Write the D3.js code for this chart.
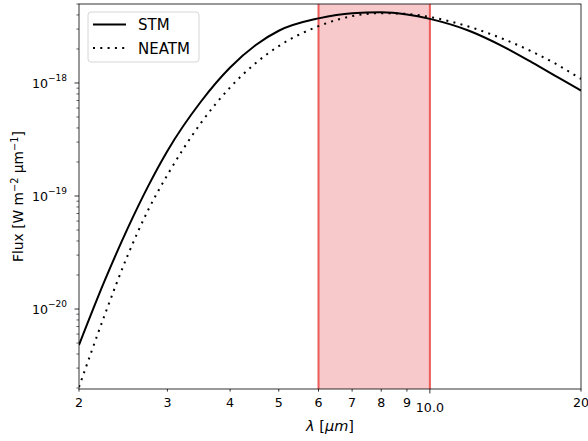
<!DOCTYPE html>
<html>
<head>
<meta charset="utf-8">
<script src="https://cdn.jsdelivr.net/npm/d3@7"></script>
<style>
  body { margin: 0; background: #fff; }
  svg { display: block; }
  text { font-family: "DejaVu Sans", sans-serif; fill: #000; }
</style>
</head>
<body>
<svg id="chart" width="588" height="441"></svg>
<script>
// Values
const wavelengths = [2, 2.25, 2.5, 2.75, 3, 3.5, 4, 4.5, 5, 6, 7, 8, 9, 10, 12, 14, 16, 18, 20];
const fluxSTM = [4.80e-21, 1.78e-20, 5.17e-20, 1.236e-19, 2.506e-19, 6.86e-19, 1.371e-18, 2.17e-18, 2.90e-18,
  3.73e-18, 4.147e-18, 4.224e-18, 4.039e-18, 3.692e-18, 2.885e-18, 2.100e-18, 1.515e-18, 1.121e-18, 8.56e-19];
const fluxNEATM = [2.04e-21, 8.85e-21, 2.975e-20, 7.60e-20, 1.534e-19, 4.436e-19, 9.14e-19, 1.503e-18, 2.121e-18,
  3.182e-18, 3.908e-18, 4.147e-18, 4.080e-18, 3.837e-18, 3.136e-18, 2.452e-18, 1.888e-18, 1.440e-18, 1.087e-18];
const seriesNames = ['STM', 'NEATM'];
const xTickValues = [2, 3, 4, 5, 6, 7, 8, 9, 10, 20];
const xTickLabels = ['2', '3', '4', '5', '6', '7', '8', '9', '10.0', '20'];
const xMajorTicks = [10];
const yMajorExponents = [-18, -19, -20];
const bandRange = [6, 10];
const xDomain = [2, 20];
const yDomain = [1.96e-21, 5.0e-18];

// Layout
const margin = { top: 4, right: 7, bottom: 52, left: 79 };
const width = 588 - margin.left - margin.right;
const height = 441 - margin.top - margin.bottom;

const svg = d3.select('#chart');
const chart = svg.append('g').attr('transform', `translate(${margin.left},${margin.top})`);

const xScale = d3.scaleLog().domain(xDomain).range([0, width]);
const yScale = d3.scaleLog().domain(yDomain).range([height, 0]);

// Shaded wavelength band
chart.append('rect')
  .attr('x', xScale(bandRange[0]))
  .attr('y', 0)
  .attr('width', xScale(bandRange[1]) - xScale(bandRange[0]))
  .attr('height', height)
  .attr('fill', '#f7c9ca');
chart.selectAll('.band-edge').data(bandRange).join('line')
  .attr('class', 'band-edge')
  .attr('x1', d => xScale(d)).attr('x2', d => xScale(d))
  .attr('y1', 0).attr('y2', height)
  .attr('stroke', '#ec5a5a').attr('stroke-width', 2);

// Curves
chart.append('clipPath').attr('id', 'plot-clip')
  .append('rect').attr('width', width).attr('height', height);
const line = d3.line()
  .x((d, i) => xScale(wavelengths[i]))
  .y(d => yScale(d))
  .curve(d3.curveMonotoneX);
chart.append('path').datum(fluxSTM)
  .attr('clip-path', 'url(#plot-clip)')
  .attr('fill', 'none').attr('stroke', '#000').attr('stroke-width', 2)
  .attr('d', line);
chart.append('path').datum(fluxNEATM)
  .attr('clip-path', 'url(#plot-clip)')
  .attr('fill', 'none').attr('stroke', '#000').attr('stroke-width', 2)
  .attr('stroke-dasharray', '2,5.3')
  .attr('d', line);

// X axis
const xAxisG = chart.append('g').attr('transform', `translate(0,${height})`);
xAxisG.selectAll('line').data(xTickValues).join('line')
  .attr('x1', d => xScale(d)).attr('x2', d => xScale(d))
  .attr('y1', 0).attr('y2', d => xMajorTicks.includes(d) ? 4.5 : 2.6)
  .attr('stroke', '#000').attr('stroke-width', 0.8);
xAxisG.selectAll('text').data(xTickValues).join('text')
  .attr('x', d => xScale(d))
  .attr('y', d => xMajorTicks.includes(d) ? 22.5 : 18.3)
  .attr('text-anchor', 'middle')
  .style('font-size', '12.6px')
  .text((d, i) => xTickLabels[i]);

// Y axis
const yAxisG = chart.append('g');
const yMinor = [];
[-21, -20, -19, -18].forEach(e => {
  for (let k = 2; k <= 9; k++) {
    const v = k * Math.pow(10, e);
    if (v >= yDomain[0] && v <= yDomain[1]) yMinor.push(v);
  }
});
yAxisG.selectAll('.minor').data(yMinor).join('line')
  .attr('class', 'minor')
  .attr('x1', -2.6).attr('x2', 0)
  .attr('y1', d => yScale(d)).attr('y2', d => yScale(d))
  .attr('stroke', '#000').attr('stroke-width', 0.6);
yAxisG.selectAll('.major').data(yMajorExponents).join('line')
  .attr('class', 'major')
  .attr('x1', -4.5).attr('x2', 0)
  .attr('y1', d => yScale(Math.pow(10, d))).attr('y2', d => yScale(Math.pow(10, d)))
  .attr('stroke', '#000').attr('stroke-width', 0.8);
const yLabels = yAxisG.selectAll('.ylab').data(yMajorExponents).join('text')
  .attr('class', 'ylab')
  .attr('x', -12)
  .attr('y', d => yScale(Math.pow(10, d)) + 4.6)
  .attr('text-anchor', 'end')
  .style('font-size', '12.6px');
yLabels.append('tspan').text('10');
yLabels.append('tspan')
  .attr('dy', -6.2)
  .style('font-size', '9px')
  .text(d => '\u2212' + Math.abs(d));

// Spines
chart.append('rect')
  .attr('width', width).attr('height', height)
  .attr('fill', 'none').attr('stroke', '#000').attr('stroke-width', 0.8);

// Axis titles
chart.append('text')
  .attr('x', width / 2).attr('y', height + 42)
  .attr('text-anchor', 'middle')
  .style('font-size', '14.5px')
  .html('<tspan font-style="italic">\u03bb</tspan> [<tspan font-style="italic">\u03bcm</tspan>]');

const yTitle = svg.append('text')
  .attr('transform', `translate(23,${margin.top + height / 2}) rotate(-90)`)
  .attr('text-anchor', 'middle')
  .style('font-size', '13.8px');
yTitle.append('tspan').text('Flux [W m');
yTitle.append('tspan').attr('dy', -5.5).style('font-size', '9.8px').text('\u22122');
yTitle.append('tspan').attr('dy', 5.5).text(' \u03bcm');
yTitle.append('tspan').attr('dy', -5.5).style('font-size', '9.8px').text('\u22121');
yTitle.append('tspan').attr('dy', 5.5).text(']');

// Legend
const legend = chart.append('g').attr('transform', 'translate(9,8)');
legend.append('rect')
  .attr('width', 111).attr('height', 50).attr('rx', 3)
  .attr('fill', '#fff').attr('fill-opacity', 0.8)
  .attr('stroke', '#ccc').attr('stroke-width', 0.8);
const legendItems = legend.selectAll('.item').data(seriesNames).join('g')
  .attr('class', 'item')
  .attr('transform', (d, i) => `translate(0,${12.5 + i * 23.5})`);
legendItems.append('line')
  .attr('x1', 5).attr('x2', 38)
  .attr('stroke', '#000').attr('stroke-width', 2)
  .attr('stroke-dasharray', (d, i) => i === 0 ? null : '2,5.3');
legendItems.append('text')
  .attr('x', 50).attr('y', 5.5)
  .style('font-size', '15px')
  .text(d => d);
</script>
</body>
</html>
